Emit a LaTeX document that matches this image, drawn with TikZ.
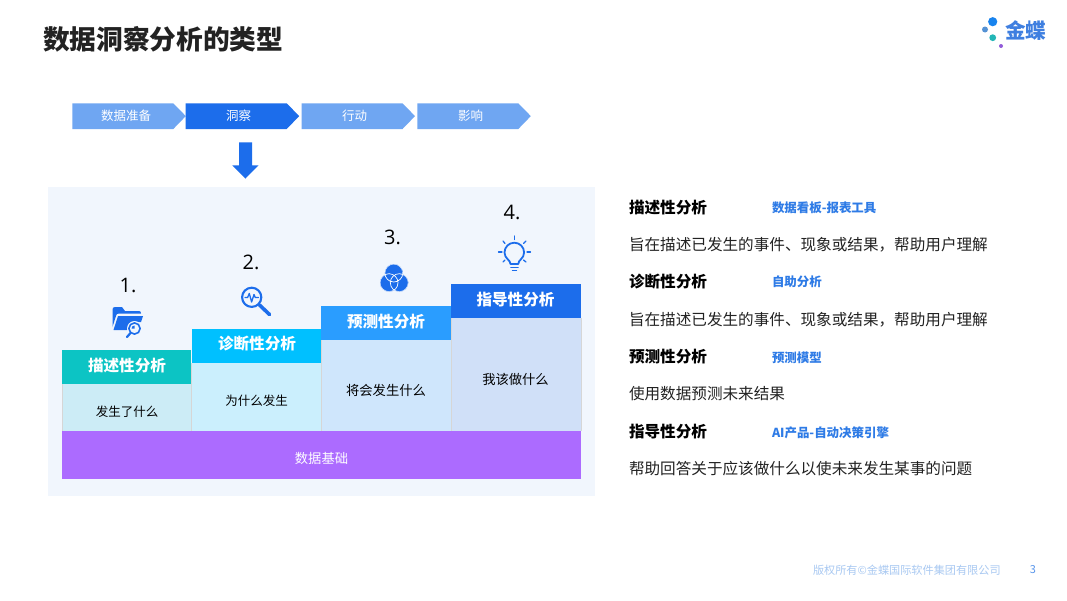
\documentclass[tikz,border=0pt]{standalone}
\usepackage{fontspec}
\setmainfont{Noto Sans CJK SC}
\newfontfamily\numfont{Open Sans}
\definecolor{cDark}{HTML}{1C6DEB}
\definecolor{cLight}{HTML}{6FA6F2}
\definecolor{cPanel}{HTML}{F1F6FD}
\definecolor{cTeal}{HTML}{0CC4C4}
\definecolor{cCyan}{HTML}{00C0FF}
\definecolor{cBlue}{HTML}{2A9DFF}
\definecolor{cB1}{HTML}{CCECF6}
\definecolor{cB2}{HTML}{CBEFFD}
\definecolor{cB3}{HTML}{CFE6FC}
\definecolor{cB4}{HTML}{D0E0F8}
\definecolor{cPurple}{HTML}{AC6BFF}
\definecolor{cTag}{HTML}{2E7BE6}
\definecolor{cFoot}{HTML}{A9C9F2}
\definecolor{cInk}{HTML}{222222}
\definecolor{cLogo}{HTML}{3F7FE0}
\newcommand{\fs}[1]{\fontsize{#1}{#1}\selectfont}
\tikzset{
  txt/.style={inner sep=0pt,outer sep=0pt},
  chevlabel/.style={txt,text=white,font=\fs{12.5}},
  colhead/.style={txt,text=white,font=\fs{15.6}\bfseries},
  colbody/.style={txt,text=black,font=\fs{12.5}},
  colbodybig/.style={txt,text=black,font=\fs{13.3}},
  numlabel/.style={txt,text=black,font=\numfont\fs{20}},
  heading/.style={txt,anchor=west,text=black,font=\fs{15.6}\bfseries},
  tag/.style={txt,anchor=west,text=cTag,font=\fs{12.45}\bfseries},
  para/.style={txt,anchor=west,text=cInk,font=\fs{15.6}},
  sepline/.style={draw=black!16,line width=0.5pt},
  iconline/.style={draw=cDark,line cap=round,line join=round}
}
\newcommand{\chev}[2]{% x, colour
  \fill[#2] (#1,103.3) -- ++(101,0) -- ++(12.5,12.8) -- ++(-12.5,12.9) -- ++(-101,0) -- cycle;}
\begin{document}
\begin{tikzpicture}[x=1pt,y=-1pt]
\useasboundingbox (0,0) rectangle (1067,600);
\fill[white] (0,0) rectangle (1067,600);
\node[txt,anchor=west,text=cInk,font=\fs{26.7}\bfseries] (title) at (43,39) {数据洞察分析的类型};
% logo
\fill[cDark!85!cyan] (992.7,21.7) circle (4.6);
\fill[cyan!55!blue!70] (985,29.5) circle (3);
\fill[cTeal!80!gray] (992.7,37.7) circle (3.4);
\fill[cPurple!85!black] (1001,46) circle (2);
\node[txt,anchor=west,text=cLogo,font=\fs{20.6}\bfseries] (logo) at (1005,31) {金蝶};
% chevrons
\chev{72.3}{cLight}
\chev{185.7}{cDark}
\chev{301.5}{cLight}
\chev{417.3}{cLight}
\node[chevlabel] (c1) at (126,116) {数据准备};
\node[chevlabel] (c2) at (238.5,116) {洞察};
\node[chevlabel] (c3) at (354.5,116) {行动};
\node[chevlabel] (c4) at (470.5,116) {影响};
% big arrow
\fill[cDark] (239,142.3) -- (252,142.3) -- (252,165.3) -- (258.5,165.3) -- (245.5,178.5) -- (232.3,165.3) -- (239,165.3) -- cycle;
% panel
\fill[cPanel] (48,187.3) rectangle (595,495.7);
% columns
\fill[cB1] (62,384) rectangle (191.5,431);
\fill[cB2] (191.5,363) rectangle (321,431);
\fill[cB3] (321,340) rectangle (451,431);
\fill[cB4] (451,318) rectangle (581,431);
\draw[sepline] (62,384) -- (62,431);
\draw[sepline] (191.5,363) -- (191.5,431);
\draw[sepline] (321,340) -- (321,431);
\draw[sepline] (451,318) -- (451,431);
\draw[sepline] (581,318) -- (581,431);
\fill[cTeal] (62,350) rectangle (191,384);
\fill[cCyan] (192,329) rectangle (321,363);
\fill[cBlue] (321,306) rectangle (451,340);
\fill[cDark] (451,284) rectangle (581,318);
\fill[cPurple] (62,431) rectangle (581,479);
\node[colhead] (h1) at (127,366) {描述性分析};
\node[colhead] (h2) at (257,344) {诊断性分析};
\node[colhead] (h3) at (386,322) {预测性分析};
\node[colhead] (h4) at (515.5,300) {指导性分析};
\node[colbody] (b1) at (127,412) {发生了什么};
\node[colbody] (b2) at (256.5,401) {为什么发生};
\node[colbodybig] (b3) at (386,390) {将会发生什么};
\node[colbodybig] (b4) at (515.5,379) {我该做什么};
\node[txt,text=white,font=\fs{13.3}] (base) at (321.5,458) {数据基础};
\node[numlabel] (n1) at (128,285) {1.};
\node[numlabel] (n2) at (251,262) {2.};
\node[numlabel] (n3) at (392.5,237) {3.};
\node[numlabel] (n4) at (512,212) {4.};
% icon 1: folder with magnifier
\fill[cDark] (112.5,310) .. controls (112.5,308) and (113,307) .. (115,307) -- (122,307) -- (125,311) -- (139,311) .. controls (140.5,311) and (141,312) .. (141,313.5) -- (119,313.5) .. controls (117,313.5) and (116.5,314) .. (116,316) -- (112.5,327) -- cycle;
\fill[cDark] (118,316) -- (143,316) -- (141,322) -- (134,322) -- (127,330) -- (113.5,330) -- cycle;
\fill[cPanel] (134.5,328.5) circle (7.5);
\draw[cDark,line width=1.6pt] (134.5,328.5) circle (5.6);
\fill[cDark] (134.5,328.5) -- (131.5,328.5) arc (180:270:3) -- cycle;
\draw[cDark,line width=2.2pt,line cap=round] (130.5,333) -- (127,337);
% icon 2: magnifier with pulse
\draw[cDark,line width=2.1pt] (251.7,297.3) circle (9.6);
\draw[cDark,line width=3.6pt,line cap=round] (259.5,305) -- (269.5,314.5);
\draw[iconline,line width=1.3pt] (245,297.5) -- (247.6,297.5) -- (249.3,293.5) -- (251.6,302) -- (254,294.5) -- (255.2,297.5) -- (258.5,297.5);
% icon 3: venn
\fill[cDark] (393.8,273) circle (9) (389,282.7) circle (9) (399.3,282.7) circle (9);
\begin{scope}
\clip (393.8,273) circle (9) (389,282.7) circle (9) (399.3,282.7) circle (9);
\draw[white,line width=0.7pt] (393.8,273) circle (9);
\draw[white,line width=0.7pt] (389,282.7) circle (9);
\draw[white,line width=0.7pt] (399.3,282.7) circle (9);
\end{scope}
% icon 4: bulb
\draw[iconline,line width=1.8pt] (510.5,264) .. controls (510.5,260) and (504.5,258.5) .. (504.5,252.5) arc (180:360:9.8) .. controls (524.1,258.5) and (518.2,260) .. (518.2,264) -- cycle;
\draw[iconline,line width=1.6pt] (511,267.5) -- (518,267.5);
\draw[iconline,line width=1.4pt] (512.5,270.5) -- (516.5,270.5);
\draw[iconline,line width=1.3pt] (514.3,236) -- (514.3,239.5);
\draw[iconline,line width=1.3pt] (503,241) -- (505,243.5);
\draw[iconline,line width=1.3pt] (526,241) -- (523.5,243.5);
\draw[iconline,line width=1.3pt] (498.5,252) -- (502,252);
\draw[iconline,line width=1.3pt] (527,252) -- (530.5,252);
\draw[iconline,line width=1.3pt] (503,262) -- (505,260);
\draw[iconline,line width=1.3pt] (526,262) -- (523.5,260);
% right column
\node[heading] (r1) at (629,208) {描述性分析};
\node[tag] (t1) at (772,207.5) {数据看板-报表工具};
\node[para] (p1) at (629,245) {旨在描述已发生的事件、现象或结果，帮助用户理解};
\node[heading] (r2) at (629,282) {诊断性分析};
\node[tag] (t2) at (772,281.5) {自助分析};
\node[para] (p2) at (629,320) {旨在描述已发生的事件、现象或结果，帮助用户理解};
\node[heading] (r3) at (629,357) {预测性分析};
\node[tag] (t3) at (772,358) {预测模型};
\node[para] (p3) at (629,394) {使用数据预测未来结果};
\node[heading] (r4) at (629,432) {指导性分析};
\node[tag] (t4) at (772,433) {AI产品-自动决策引擎};
\node[para] (p4) at (629,469) {帮助回答关于应该做什么以使未来发生某事的问题};
% footer
\node[txt,anchor=west,text=cFoot,font=\fs{11.15}] (foot) at (813,570.5) {版权所有©金蝶国际软件集团有限公司};
\node[txt,text=cTag!80,font=\fs{11}] (page) at (1033,570) {3};
\end{tikzpicture}
\end{document}
